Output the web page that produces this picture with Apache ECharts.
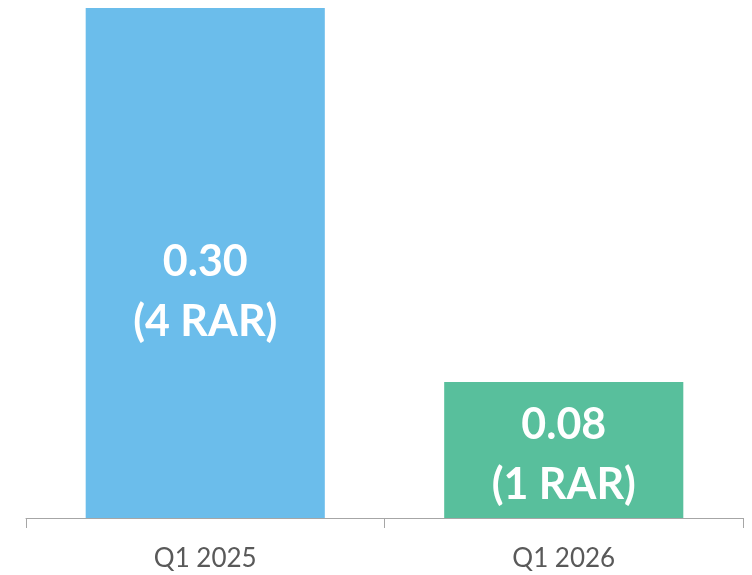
<!DOCTYPE html>
<html>
<head>
<meta charset="utf-8">
<script src="https://cdn.jsdelivr.net/npm/echarts@6/dist/echarts.min.js"></script>
<style>
html,body{margin:0;padding:0;background:#fff;}
#c{width:752px;height:575px;}
</style>
</head>
<body>
<div id="c"></div>
<script>
var categories = ['Q1 2025', 'Q1 2026'];
var values = [0.30, 0.08];
var rarCounts = [4, 1];
var barColors = ['#6BBDEB', '#58BF9C'];
var labelOffsets = [[0, 29], [0, 5]];

var chart = echarts.init(document.getElementById('c'));
chart.setOption({
  animation: false,
  grid: { left: 26, right: 9, top: 8, bottom: 57 },
  xAxis: {
    type: 'category',
    data: categories,
    boundaryGap: true,
    axisLine: { lineStyle: { color: '#A6A6A6', width: 1 } },
    axisTick: { show: true, length: 10, lineStyle: { color: '#A6A6A6' } },
    axisLabel: { color: '#595959', fontFamily: 'Lato', fontSize: 26, margin: 28 }
  },
  yAxis: {
    type: 'value', min: 0, max: 0.30, show: false,
    splitLine: { show: false }
  },
  series: [{
    type: 'bar',
    barWidth: '66.7%',
    data: values.map(function (v, i) {
      return {
        value: v,
        itemStyle: { color: barColors[i] },
        label: { offset: labelOffsets[i] }
      };
    }),
    label: {
      show: true,
      position: 'inside',
      color: '#fff',
      fontFamily: 'Lato',
      fontWeight: 'bold',
      fontSize: 43,
      lineHeight: 60,
      formatter: function (p) {
        return p.value.toFixed(2) + '\n(' + rarCounts[p.dataIndex] + ' RAR)';
      }
    }
  }]
});
</script>
</body>
</html>
